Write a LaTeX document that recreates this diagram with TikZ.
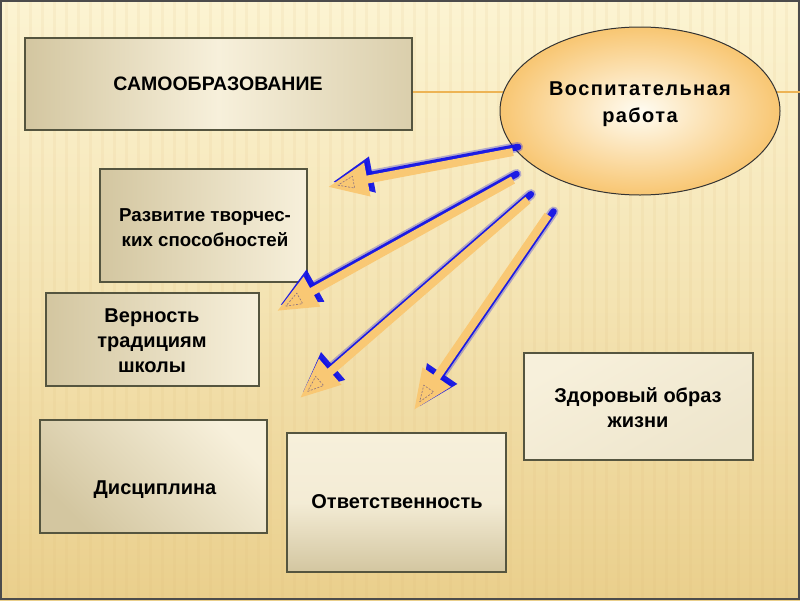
\documentclass[tikz,border=0pt]{standalone}
\usepackage{fontspec}
\setmainfont{Liberation Sans}
\usetikzlibrary{shapes.geometric,arrows.meta,calc}
\definecolor{bgtop}{HTML}{FCF4D2}
\definecolor{bgbot}{HTML}{EACF8C}
\definecolor{boxline}{HTML}{55553F}
\definecolor{boxdark}{HTML}{D3C6A0}
\definecolor{boxlight}{HTML}{F7F0DB}
\definecolor{decoline}{HTML}{EDB454}
\definecolor{arrorange}{HTML}{F9C874}
\definecolor{glowblue}{HTML}{1414E6}
\definecolor{ellout}{HTML}{F8C672}
\definecolor{ellin}{HTML}{FFFCF2}
\definecolor{tricol}{HTML}{8A7080}
\tikzset{
  boxstyle/.style={draw=boxline, line width=1.2pt, inner sep=0pt},
  txt/.style={font=\fontsize{20}{25}\selectfont\bfseries, align=center, text=black},
  stripe/.style={draw=bgbot!70!brown, opacity=0.10, line width=3pt},
  glowwide/.style={draw=glowblue, line width=10pt, opacity=0.3, line cap=round},
  glowcore/.style={draw=glowblue, fill=glowblue, line width=6.5pt, opacity=0.95, line cap=round, -{Triangle[length=40pt,width=35pt]}},
  orangearrow/.style={draw=arrorange, fill=arrorange, line width=8pt, -{Triangle[length=40pt,width=32pt]}},
  innertri/.style={draw=tricol, line width=0.6pt, dash pattern=on 2pt off 1.5pt},
}
% #1 start, #2 tip, #3 shadow offset
\newcommand\glowarrow[3]{%
  \coordinate (#1sh) at ($(#1)+(#3)$);
  \coordinate (#2sh) at ($(#2)+(#3)$);
  \coordinate (#2gw) at ($(#2sh)!34pt!(#1sh)$);
  \draw[glowwide] (#1sh) -- (#2gw);
  \draw[glowcore] (#1sh) -- (#2sh);
  \draw[orangearrow] (#1) -- (#2);
  \coordinate (#2ap) at ($(#2)!10pt!(#1)$);
  \coordinate (#2bm) at ($(#2)!26pt!(#1)$);
  \draw[innertri] (#2ap) -- ($(#2bm)!6pt!90:(#2)$) -- ($(#2bm)!6pt!-90:(#2)$) -- cycle;
}
\begin{document}
\begin{tikzpicture}[x=1pt,y=-1pt]
\useasboundingbox (0,0) rectangle (800,600);
% background
\shade[top color=bgtop, bottom color=bgbot, middle color=bgtop!55!bgbot] (0,0) rectangle (800,600);
\foreach \i in {6,18,...,800} \draw[stripe] (\i,0) -- (\i,600);
\draw[draw=black!70, line width=2pt] (1,1) rectangle (799,599);
% decorative line
\draw[decoline, line width=2pt] (412,92) -- (800,92);

% boxes
\node[boxstyle, minimum width=387pt, minimum height=92pt, left color=boxdark, right color=boxdark!80!boxlight, middle color=boxlight] (b1) at (218.5,84) {};
\node[txt, font=\fontsize{19.5}{25}\selectfont\bfseries] (t1) at (218,84) {САМООБРАЗОВАНИЕ};

\node[boxstyle, minimum width=207pt, minimum height=113pt, left color=boxdark, right color=boxlight] (b2) at (203.5,225.5) {};
\node[txt, font=\fontsize{18.7}{25}\selectfont\bfseries] (t2) at (205,228) {Развитие творчес-\\ких способностей};

\node[boxstyle, minimum width=213pt, minimum height=93pt, left color=boxdark, right color=boxlight] (b3) at (152.5,339.5) {};
\node[txt] (t3) at (152,341) {Верность\\традициям\\школы};

\node[boxstyle, minimum width=227pt, minimum height=113pt, top color=boxlight, bottom color=boxdark, shading angle=-45] (b4) at (153.5,476.5) {};
\node[txt] (t4) at (155,490) {Дисциплина};

\node[boxstyle, minimum width=219pt, minimum height=139pt, top color=boxlight, bottom color=boxdark, middle color=boxlight!90!boxdark] (b5) at (396.5,502.5) {};
\node[txt] (t5) at (397,502) {Ответственность};

\node[boxstyle, minimum width=229pt, minimum height=107pt, top color=boxlight, bottom color=boxlight!75!boxdark, shading angle=30] (b6) at (638.5,406.5) {};
\node[txt] (t6) at (638,408) {Здоровый образ\\жизни};

% ellipse
\node[ellipse, draw=black!80, line width=1pt, minimum width=280pt, minimum height=168pt, inner color=ellin, outer color=ellout] (ell) at (640,111) {};
\node[txt, font=\fontsize{20}{27}\selectfont\bfseries\addfontfeature{LetterSpace=7}] (te) at (640,104) {Воспитательная\\работа};

% arrows
\coordinate (s1) at (513,152);
\coordinate (e1) at (328,187);
\coordinate (s2) at (513,180);
\coordinate (e2) at (277,311);
\coordinate (s3) at (528,200);
\coordinate (e3) at (300,398);
\coordinate (s4) at (548,215);
\coordinate (e4) at (414,410);
\glowarrow{s1}{e1}{5.1,-5.0}
\glowarrow{s2}{e2}{3.5,-6.0}
\glowarrow{s3}{e3}{2.9,-5.8}
\glowarrow{s4}{e4}{5.5,-3.5}
\end{tikzpicture}
\end{document}
